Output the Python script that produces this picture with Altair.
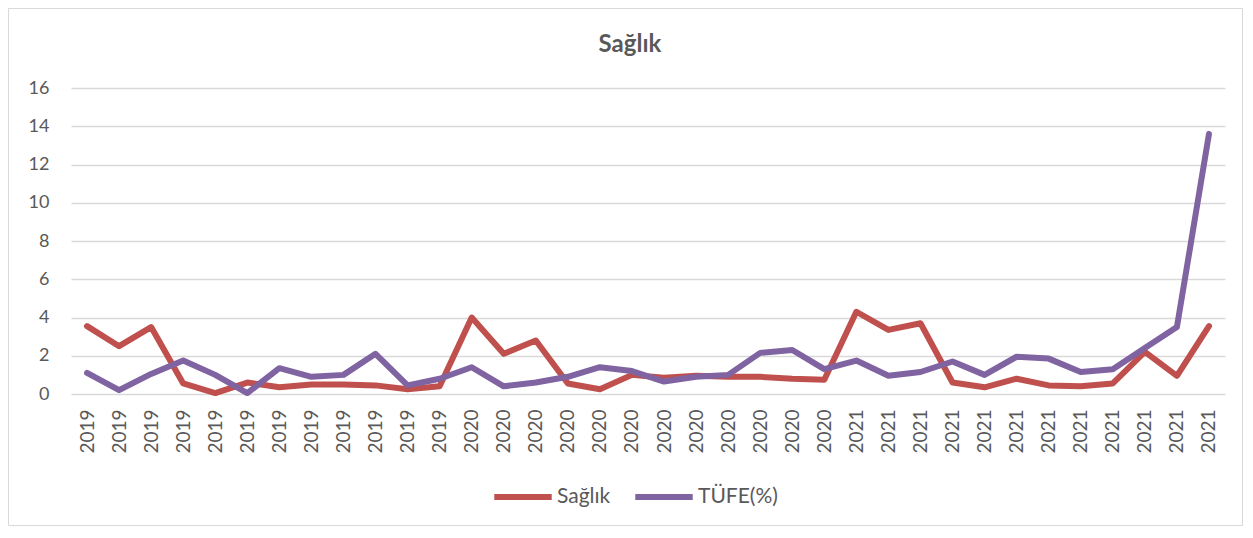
import altair as alt
import pandas as pd

years = ["2019"] * 12 + ["2020"] * 12 + ["2021"] * 12
saglik = [3.55, 2.5, 3.5, 0.55, 0.05, 0.6, 0.35, 0.5, 0.5, 0.45, 0.25, 0.4,
          4.0, 2.1, 2.8, 0.55, 0.25, 1.0, 0.85, 0.95, 0.9, 0.9, 0.8, 0.75,
          4.3, 3.35, 3.7, 0.6, 0.35, 0.8, 0.45, 0.4, 0.55, 2.2, 0.95, 3.55]
tufe = [1.1, 0.2, 1.05, 1.75, 1.0, 0.05, 1.35, 0.9, 1.0, 2.1, 0.45, 0.8,
        1.4, 0.4, 0.6, 0.9, 1.4, 1.2, 0.65, 0.9, 1.0, 2.15, 2.3, 1.3,
        1.75, 0.95, 1.15, 1.7, 1.0, 1.95, 1.85, 1.15, 1.3, 2.4, 3.5, 13.6]
series_names = ["Sağlık", "TÜFE(%)"]
colors = ["#C0504D", "#8064A2"]

rows = []
for name, vals in zip(series_names, [saglik, tufe]):
    for i, (y, v) in enumerate(zip(years, vals)):
        rows.append({"key": f"{y}-{i:02d}", "series": name, "value": v})
df = pd.DataFrame(rows)

FONT = "Lato"
GREY = "#595959"

lines = alt.Chart(df).mark_line(strokeWidth=6, strokeCap="round", strokeJoin="round").encode(
    x=alt.X("key:O", sort=None, title=None,
            scale=alt.Scale(type="point", padding=0.5),
            axis=alt.Axis(labelAngle=-90, labelExpr="slice(datum.label, 0, 4)",
                          labelFontSize=19, labelColor=GREY, labelFont=FONT,
                          labelPadding=15, ticks=False, domain=False, grid=False,
                          labelAlign="right", labelBaseline="middle")),
    y=alt.Y("value:Q", title=None,
            scale=alt.Scale(domain=[0, 16]),
            axis=alt.Axis(values=list(range(0, 17, 2)), labelFontSize=18,
                          labelColor=GREY, labelFont=FONT, labelPadding=22,
                          ticks=False, domain=False, grid=True,
                          gridColor="#D9D9D9", gridWidth=1.5)),
    color=alt.Color("series:N", sort=series_names,
                    scale=alt.Scale(domain=series_names, range=colors),
                    legend=alt.Legend(orient="none", direction="horizontal",
                                      legendX=420, legendY=377, title=None,
                                      symbolType="stroke", symbolStrokeWidth=6,
                                      symbolSize=3300, labelFontSize=21,
                                      labelColor=GREY, labelFont=FONT,
                                      columnPadding=12, labelOffset=2)),
)

frame = alt.Chart(alt.Data(values=[{"a": 1}])).mark_rect(
    fill=None, stroke="#D9D9D9", strokeWidth=1
).encode(
    x=alt.value(-62.5), x2=alt.value(1171.5),
    y=alt.value(-79.5), y2=alt.value(437.5),
)

chart = alt.layer(frame, lines).properties(
    width=1154, height=306,
    title=alt.TitleParams("Sağlık", fontSize=24, fontWeight="bold", color=GREY,
                          font=FONT, anchor="middle", dx=-18, offset=-49),
    padding={"left": 63, "top": 80, "right": 18, "bottom": 132},
    autosize=alt.AutoSizeParams(type="none"),
).configure_view(stroke=None)

chart.save("out.html", embed_options={"renderer": "svg", "actions": False})
